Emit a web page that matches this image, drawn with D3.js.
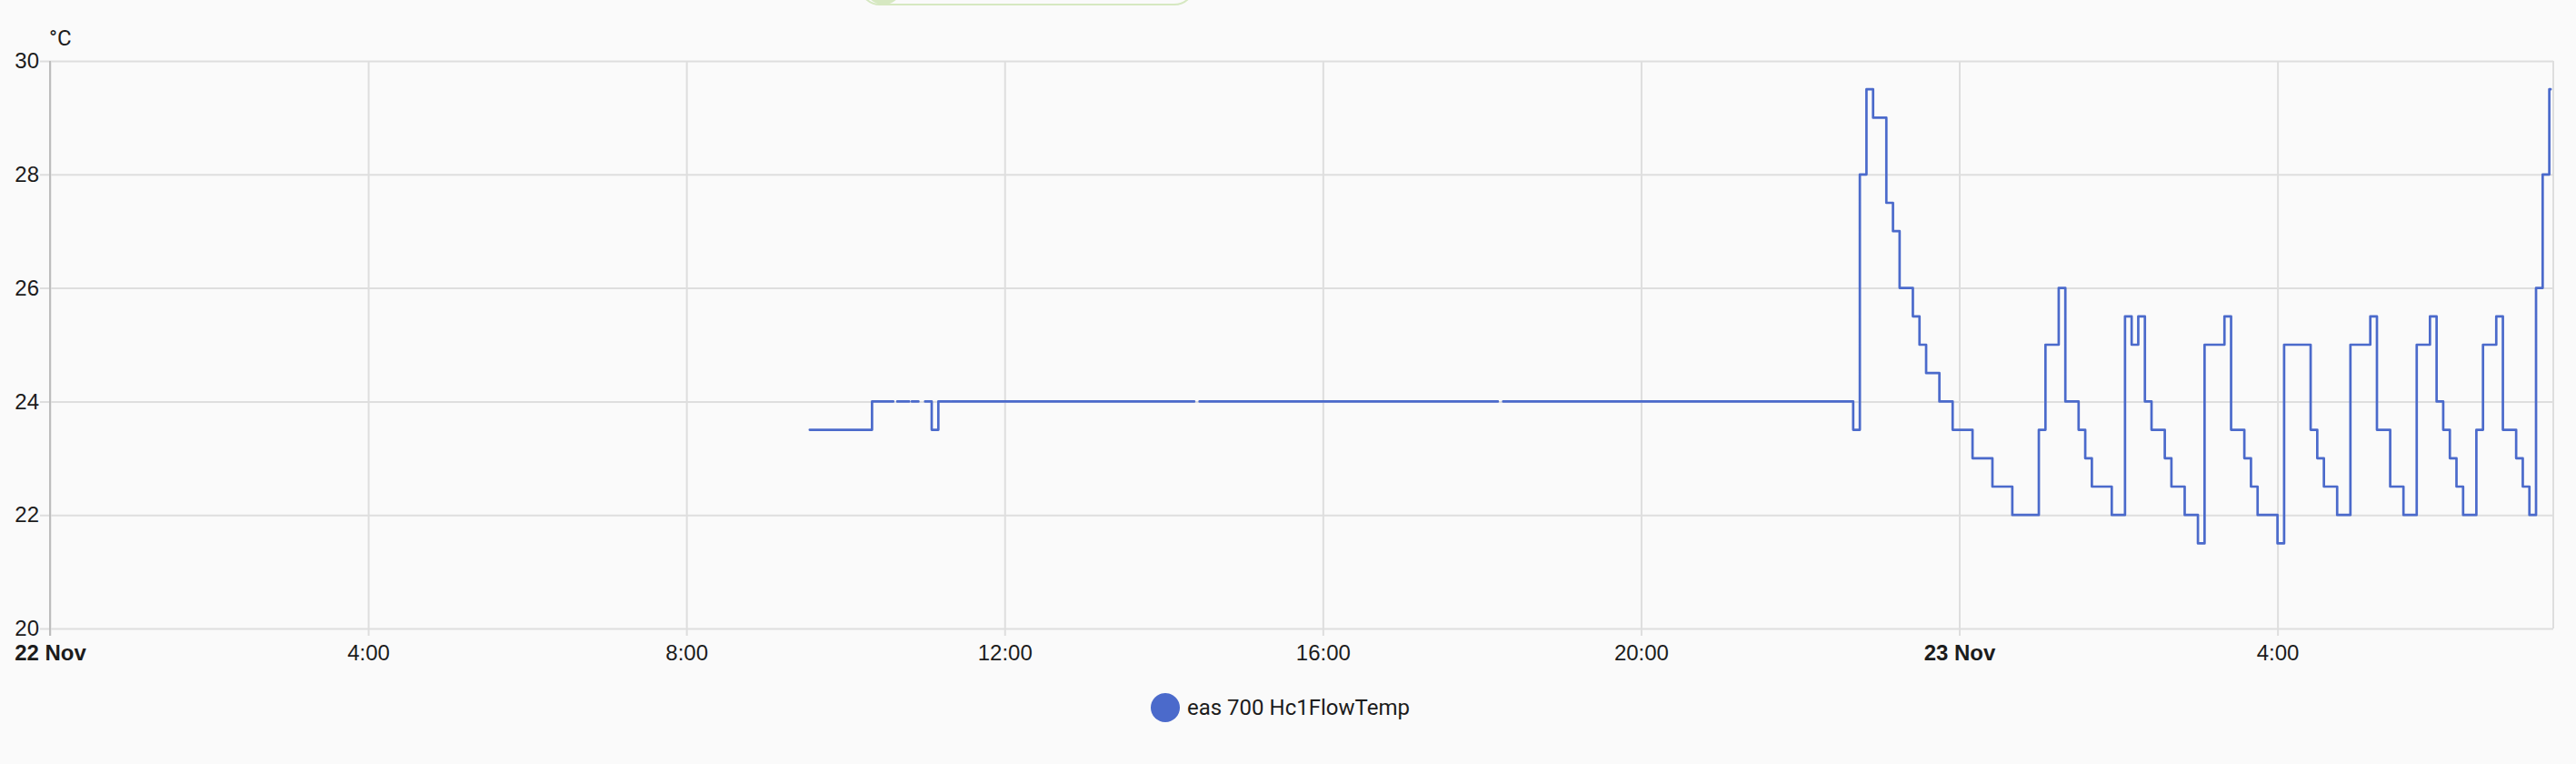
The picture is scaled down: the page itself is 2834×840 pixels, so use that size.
<!DOCTYPE html>
<html>
<head>
<meta charset="utf-8">
<script src="https://cdn.jsdelivr.net/npm/d3@7"></script>
<style>
  html, body { margin: 0; padding: 0; background: #fafafa; }
  svg { display: block; font-family: Roboto, "Noto Sans", sans-serif; }
</style>
</head>
<body>
<div id="chart"></div>
<script>
// sensor readings, 5 min sampling (null = no data / gap)
const times = [
  "2024-11-22 09:33", "2024-11-22 10:20", "2024-11-22 10:36", "2024-11-22 10:36",
  "2024-11-22 10:39", "2024-11-22 10:48", "2024-11-22 10:48",
  "2024-11-22 10:50", "2024-11-22 10:55", "2024-11-22 10:55",
  "2024-11-22 11:00", "2024-11-22 11:05", "2024-11-22 11:10",
  "2024-11-22 11:19", "2024-11-22 11:19", "2024-11-22 11:20",
  "2024-11-22 14:23", "2024-11-22 14:23", "2024-11-22 14:27",
  "2024-11-22 18:12", "2024-11-22 18:12", "2024-11-22 18:16",
  "2024-11-22 22:40", "2024-11-22 22:45", "2024-11-22 22:50", "2024-11-22 22:55",
  "2024-11-22 23:05", "2024-11-22 23:10", "2024-11-22 23:15", "2024-11-22 23:25",
  "2024-11-22 23:30", "2024-11-22 23:35", "2024-11-22 23:45", "2024-11-22 23:55",
  "2024-11-23 00:10", "2024-11-23 00:25", "2024-11-23 00:40", "2024-11-23 01:00",
  "2024-11-23 01:05", "2024-11-23 01:15", "2024-11-23 01:20", "2024-11-23 01:30",
  "2024-11-23 01:35", "2024-11-23 01:40", "2024-11-23 01:55", "2024-11-23 02:05",
  "2024-11-23 02:10", "2024-11-23 02:15", "2024-11-23 02:20", "2024-11-23 02:25",
  "2024-11-23 02:35", "2024-11-23 02:40", "2024-11-23 02:50", "2024-11-23 03:00",
  "2024-11-23 03:05", "2024-11-23 03:20", "2024-11-23 03:25", "2024-11-23 03:35",
  "2024-11-23 03:40", "2024-11-23 03:45", "2024-11-23 04:00", "2024-11-23 04:05",
  "2024-11-23 04:25", "2024-11-23 04:30", "2024-11-23 04:35", "2024-11-23 04:45",
  "2024-11-23 04:55", "2024-11-23 05:10", "2024-11-23 05:15", "2024-11-23 05:25",
  "2024-11-23 05:35", "2024-11-23 05:45", "2024-11-23 05:55", "2024-11-23 06:00",
  "2024-11-23 06:05", "2024-11-23 06:10", "2024-11-23 06:15", "2024-11-23 06:20",
  "2024-11-23 06:30", "2024-11-23 06:35", "2024-11-23 06:45", "2024-11-23 06:50",
  "2024-11-23 07:00", "2024-11-23 07:05", "2024-11-23 07:10", "2024-11-23 07:15",
  "2024-11-23 07:20", "2024-11-23 07:25", "2024-11-23 07:26"
];
const temps = [
  23.5, 24, 24, null,
  24, 24, null,
  24, 24, null,
  24, 23.5, 24,
  24, null, 24,
  24, null, 24,
  24, null, 24,
  23.5, 28, 29.5, 29,
  27.5, 27, 26, 25.5,
  25, 24.5, 24, 23.5,
  23, 22.5, 22, 23.5,
  25, 26, 24, 23.5,
  23, 22.5, 22, 25.5,
  25, 25.5, 24, 23.5,
  23, 22.5, 22, 21.5,
  25, 25.5, 23.5, 23,
  22.5, 22, 21.5, 25,
  23.5, 23, 22.5, 22,
  25, 25.5, 23.5, 22.5,
  22, 25, 25.5, 24,
  23.5, 23, 22.5, 22,
  23.5, 25, 25.5, 23.5,
  23, 22.5, 22, 26,
  28, 29.5, 29.5
];

const yTicks = [20, 22, 24, 26, 28, 30];
const seriesName = "eas 700 Hc1FlowTemp";
const unit = "°C";
const xStart = "2024-11-22 00:00";
const xEnd = "2024-11-23 07:28";

const parse = d3.timeParse("%Y-%m-%d %H:%M");
const data = times.map((t, i) => ({ t: parse(t), v: temps[i] }));

const width = 2834, height = 840;
const plotLeft = 55, plotRight = 2809, plotTop = 67, plotBottom = 691;
const lineColor = "#4b6acb";
const textColor = "#1c1c1c";

const svg = d3.select("#chart").append("svg")
    .attr("width", width)
    .attr("height", height);

// cut-off toggle sitting above the chart
svg.append("rect")
    .attr("x", 946).attr("y", -40)
    .attr("width", 368).attr("height", 45)
    .attr("rx", 22)
    .attr("fill", "none")
    .attr("stroke", "#d6e8c1")
    .attr("stroke-width", 2);
svg.append("circle")
    .attr("cx", 972).attr("cy", -16).attr("r", 21)
    .attr("fill", "#d6e8c1");

const x = d3.scaleTime()
    .domain([parse(xStart), parse(xEnd)])
    .range([plotLeft, plotRight]);

const y = d3.scaleLinear()
    .domain([20, 30])
    .range([plotBottom, plotTop]);

// horizontal grid + y labels
const yAxis = d3.axisLeft(y)
    .tickValues(yTicks)
    .tickSize(0)
    .tickPadding(12);

svg.append("g")
    .attr("transform", `translate(${plotLeft},0)`)
    .call(yAxis)
    .call(g => g.select(".domain").remove())
    .call(g => g.selectAll(".tick line")
        .attr("x1", -11)
        .attr("x2", plotRight - plotLeft)
        .attr("stroke", "#dedede")
        .attr("stroke-width", 2))
    .call(g => g.selectAll(".tick text")
        .attr("x", -12)
        .attr("fill", textColor)
        .attr("font-size", 24));

// vertical grid + x labels
const xTicks = d3.timeHour.every(4).range(parse(xStart), parse(xEnd));
const xAxis = d3.axisBottom(x)
    .tickValues(xTicks)
    .tickSize(0)
    .tickFormat(d => d.getHours() === 0 ? d3.timeFormat("%-d %b")(d) : d3.timeFormat("%-H:%M")(d));

svg.append("g")
    .attr("transform", `translate(0,${plotBottom})`)
    .call(xAxis)
    .call(g => g.select(".domain").remove())
    .call(g => g.selectAll(".tick line")
        .attr("y1", 8)
        .attr("y2", plotTop - plotBottom)
        .attr("stroke", "#dedede")
        .attr("stroke-width", 2))
    .call(g => g.selectAll(".tick text")
        .attr("y", 18)
        .attr("dy", "0.71em")
        .attr("fill", textColor)
        .attr("font-size", 24)
        .attr("font-weight", d => d.getHours() === 0 ? "bold" : "normal"));

// right border line
svg.append("line")
    .attr("x1", plotRight).attr("x2", plotRight)
    .attr("y1", plotTop).attr("y2", plotBottom)
    .attr("stroke", "#dedede")
    .attr("stroke-width", 2);

// left axis line
svg.append("line")
    .attr("x1", plotLeft).attr("x2", plotLeft)
    .attr("y1", plotTop).attr("y2", plotBottom + 8)
    .attr("stroke", "#bdbdbd")
    .attr("stroke-width", 2);

// unit label
svg.append("text")
    .attr("x", plotLeft - 1)
    .attr("y", 50)
    .attr("fill", textColor)
    .attr("font-size", 24)
    .text(unit);

const line = d3.line()
    .defined(d => d.v !== null)
    .x(d => x(d.t))
    .y(d => y(d.v))
    .curve(d3.curveStepAfter);

svg.append("path")
    .datum(data)
    .attr("d", line)
    .attr("fill", "none")
    .attr("stroke", lineColor)
    .attr("stroke-width", 2.7)
    .attr("stroke-linecap", "round")
    .attr("stroke-linejoin", "round");

// legend
const legend = svg.append("g").attr("transform", "translate(1282,778)");
legend.append("circle")
    .attr("r", 16)
    .attr("fill", lineColor);
legend.append("text")
    .attr("x", 24)
    .attr("dy", "0.35em")
    .attr("fill", textColor)
    .attr("font-size", 24)
    .text(seriesName);
</script>
</body>
</html>
